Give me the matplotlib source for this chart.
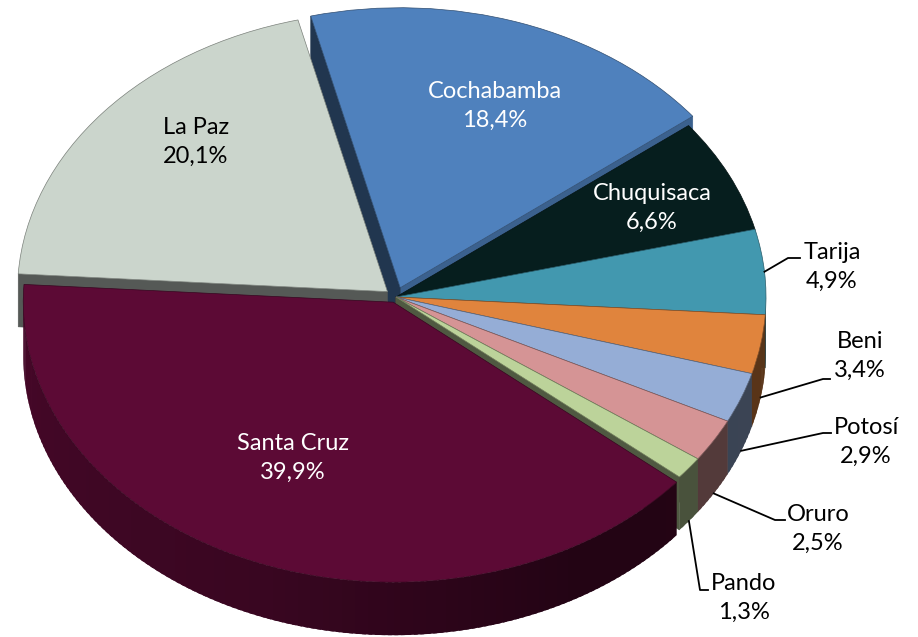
"""3D-style pie chart: share of each Bolivian department (Excel look)."""
import matplotlib
matplotlib.use('Agg')
import matplotlib.pyplot as plt
import numpy as np
from matplotlib.colors import to_rgb
from matplotlib.patches import Polygon

# Series order = clockwise starting from the top (as Excel draws it)
DEPARTAMENTOS = ['Cochabamba', 'Chuquisaca', 'Tarija', 'Beni', 'Potosí',
                 'Oruro', 'Pando', 'Santa Cruz', 'La Paz']
PORCENTAJES = [18.4, 6.6, 4.9, 3.4, 2.9, 2.5, 1.3, 39.9, 20.1]
COLORES = ['#4F81BD', '#061E1E', '#4298AF', '#E0843D', '#95ADD6',
           '#D59495', '#BCD39A', '#5C0A35', '#CBD5CC']
EXPLOSION = [0.035, 0, 0, 0, 0, 0, 0, 0.02, 0.03]   # fraction of radius
TEXTO_BLANCO = ['Cochabamba', 'Chuquisaca', 'Santa Cruz']

# Layout, in pixels of the final image (y measured from the top)
W, H = 918, 637
CX, CY = 396, 297          # pie centre
RX, RY = 370, 280          # ellipse radii of the top face
DEPTH = 53                 # thickness of the "3D" side
K = RY / RX                # vertical squash

# centre of each two-line label
LABEL_POS = {
    'Cochabamba': (495, 106), 'La Paz': (196, 142), 'Chuquisaca': (652, 208),
    'Santa Cruz': (293, 458), 'Tarija': (832, 267), 'Beni': (860, 356),
    'Potosí': (866, 442), 'Oruro': (818, 529), 'Pando': (744, 598),
}
# leader lines for outside labels: elbow point and end point
LEADER = {
    'Tarija': ((788, 258), (800, 258)),
    'Beni': ((823, 379), (830, 379)),
    'Potosí': ((823, 433), (831, 433)),
    'Oruro': ((775, 520), (785, 520)),
    'Pando': ((700, 590), (708, 590)),
}


def to_data(x, y):
    """pixel (y from top) -> data coordinates."""
    return x, (H - y) / K


def shade(color, f):
    return tuple(c * f for c in to_rgb(color))


def outer_shade(deg):
    deg = deg % 360
    return np.interp(deg, [180, 250, 300, 360], [0.76, 0.62, 0.38, 0.4])


fig = plt.figure(figsize=(W / 100, H / 100), dpi=100)
ax = fig.add_axes([0, 0, 1, 1])

# matplotlib's explode offset is absolute, so scale by the radius
wedges, _ = ax.pie(
    PORCENTAJES, explode=[e * RX for e in EXPLOSION], colors=COLORES,
    startangle=104, counterclock=False, radius=RX, center=to_data(CX, CY),
    wedgeprops=dict(linewidth=0.5),
)

depth_d = DEPTH / K
mids = [np.deg2rad((w.theta1 + w.theta2) / 2) for w in wedges]
order = np.argsort([-np.sin(m) for m in mids])  # back slices first

for rank, i in enumerate(order):
    w, col = wedges[i], COLORES[i]
    (wx, wy), r = w.center, w.r
    z_wall, z_top = 2 * rank + 1, 2 * rank + 2
    w.set_zorder(z_top)
    w.set_edgecolor(shade(col, 0.6))

    # radial walls that face the viewer
    for t, sgn in ((w.theta1, -1), (w.theta2, 1)):
        tr = np.deg2rad(t)
        normal = tr + sgn * np.pi / 2
        if np.sin(normal) >= 0:
            continue
        f = 0.75 if np.cos(normal) > 0.3 else 0.42
        px, py = wx + r * np.cos(tr), wy + r * np.sin(tr)
        ax.add_patch(Polygon(
            [(wx, wy), (px, py), (px, py - depth_d), (wx, wy - depth_d)],
            closed=True, facecolor=shade(col, f), edgecolor=shade(col, f),
            linewidth=0.4, zorder=z_wall))

    # curved outer wall on the front half, shaded along the arc;
    # each strip overlaps the previous one a little to hide seams
    ts = np.linspace(w.theta1, w.theta2, max(int(w.theta2 - w.theta1), 2) + 1)
    first = True
    for a, b in zip(ts[:-1], ts[1:]):
        m = np.deg2rad((a + b) / 2)
        if np.sin(m) >= 0:
            continue
        a0 = a if first else a - 0.6
        first = False
        ang = np.deg2rad(np.linspace(a0, b, 4))
        top = [(wx + r * np.cos(q), wy + r * np.sin(q)) for q in ang]
        bot = [(x, y - depth_d) for x, y in top[::-1]]
        c = shade(col, outer_shade((a + b) / 2))
        ax.add_patch(Polygon(top + bot, closed=True, facecolor=c,
                             edgecolor='none', linewidth=0, zorder=z_wall))

# labels
for i, name in enumerate(DEPARTAMENTOS):
    txt = f"{name}\n{PORCENTAJES[i]:.1f}%".replace('.', ',')
    color = 'white' if name in TEXTO_BLANCO else 'black'
    ax.text(*to_data(*LABEL_POS[name]), txt, ha='center', va='center',
            fontsize=17, family='Lato', color=color, linespacing=1.42,
            zorder=40)
    if name in LEADER:
        w = wedges[i]
        m = mids[i]
        ax_x = w.center[0] + w.r * np.cos(m)
        ax_y = w.center[1] + w.r * np.sin(m)
        if np.sin(m) < 0:
            ax_y -= depth_d
        knee, end = LEADER[name]
        xs = [ax_x, to_data(*knee)[0], to_data(*end)[0]]
        ys = [ax_y, to_data(*knee)[1], to_data(*end)[1]]
        ax.plot(xs, ys, color='black', linewidth=1.3, zorder=39)

ax.set_xlim(0, W)
ax.set_ylim(0, H / K)
ax.set_aspect('auto')
ax.axis('off')

fig.savefig('out.png', dpi=100, facecolor='white')
